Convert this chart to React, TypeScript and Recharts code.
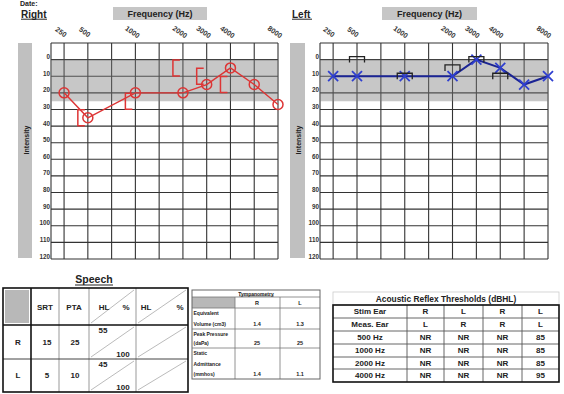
import React from 'react';
import { ComposedChart, Line, XAxis, YAxis, CartesianGrid, ReferenceArea } from 'recharts';

const FONT = '"Liberation Sans", Arial, Helvetica, sans-serif';

// audiogram frequency columns (index position) and their labels
const freqIndex = [0, 1, 2, 3, 4, 5, 6, 7, 8, 9];
const freqLabels = ['250', '500', '', '1000', '', '2000', '3000', '4000', '', '8000'];
const gridTicksX = [-0.55, ...freqIndex];
const dbTicks = [-10, 0, 10, 20, 30, 40, 50, 60, 70, 80, 90, 100, 110, 120];

// air conduction: 250, 500, 1000, 2000, 3000, 4000, 6000, 8000
const acFreqIdx = [0, 1, 3, 5, 6, 7, 8, 9];
const rightAC = [20, 35, 20, 20, 15, 5, 15, 27];
const leftAC = [10, 10, 10, 10, 0, 5, 15, 10];

// bone conduction: 500, 1000, 2000, 3000, 4000
const bcFreqIdx = [1, 3, 5, 6, 7];
const rightBC = [35, 25, 5, 10, 15];
const leftBC = [0, 10, 5, 0, 10];

// speech table
const speechCols = ['SRT', 'PTA'];
const speechRows = ['R', 'L'];
const speechSRT = ['15', '5'];
const speechPTA = ['25', '10'];
const speechHL = ['55', '45'];
const speechPct = ['100', '100'];

// tympanometry
const tympRowLabels = [['Equivalent', 'Volume (cm3)'], ['Peak Pressure', '(daPa)'], ['Static', 'Admittance', '(mmhos)']];
const tympR = ['1.4', '25', '1.4'];
const tympL = ['1.3', '25', '1.1'];

// acoustic reflex
const arRowLabels = ['Stim Ear', 'Meas. Ear', '500 Hz', '1000 Hz', '2000 Hz', '4000 Hz'];
const arValues = [
  ['R', 'L', 'R', 'L'],
  ['L', 'R', 'R', 'L'],
  ['NR', 'NR', 'NR', '85'],
  ['NR', 'NR', 'NR', '85'],
  ['NR', 'NR', 'NR', '85'],
  ['NR', 'NR', 'NR', '95'],
];

const RED = '#dd3535';
const BLUE = '#2f3fd0';
const NAVY = '#1b2494';

const rightACData = acFreqIdx.map((x, i) => ({ x, db: rightAC[i] }));
const leftACData = acFreqIdx.map((x, i) => ({ x, db: leftAC[i] }));
const rightBCData = bcFreqIdx.map((x, i) => ({ x, db: rightBC[i] }));
const leftBCData = bcFreqIdx.map((x, i) => ({ x, db: leftBC[i] }));

const makeXTick = (dx: number) => (props: any) => {
  const { x, payload } = props;
  const idx = freqIndex.indexOf(payload.value);
  const label = idx >= 0 ? freqLabels[idx] : '';
  if (!label) return <g />;
  const tx = x + dx;
  const ty = 32;
  return (
    <text x={tx} y={ty} transform={`rotate(35 ${tx} ${ty})`} textAnchor="middle" dominantBaseline="central"
      fontSize={7.2} fontWeight="bold" fill="#333" fontFamily={FONT}>{label}</text>
  );
};

const YTick = (props: any) => {
  const { x, y, payload } = props;
  if (payload.value < 0) return <g />;
  return (
    <text x={x} y={y - 3} textAnchor="end" dominantBaseline="central" fontSize={6.3} fontWeight="bold" fill="#333" fontFamily={FONT}>
      {payload.value}
    </text>
  );
};

const CircleDot = (props: any) => {
  const { cx, cy, index } = props;
  if (cx == null || cy == null) return <g key={index} />;
  return <circle key={index} cx={cx} cy={cy} r={5} fill="none" stroke={RED} strokeWidth={1.5} />;
};

const XDot = (props: any) => {
  const { cx, cy, index } = props;
  if (cx == null || cy == null) return <g key={index} />;
  const s = 5;
  return (
    <g key={index}>
      <line x1={cx - s} y1={cy - s} x2={cx + s} y2={cy + s} stroke={BLUE} strokeWidth={1.8} />
      <line x1={cx - s} y1={cy + s} x2={cx + s} y2={cy - s} stroke={BLUE} strokeWidth={1.8} />
    </g>
  );
};

const RightBracket = (props: any) => {
  const { cx, cy, index } = props;
  if (cx == null || cy == null) return <g key={index} />;
  const vx = cx - 10;
  return (
    <path key={index} d={`M${cx - 3},${cy - 8} L${vx},${cy - 8} L${vx},${cy + 8} L${cx - 3},${cy + 8}`}
      fill="none" stroke={RED} strokeWidth={1.5} />
  );
};

const LeftBracket = (props: any) => {
  const { cx, cy, index } = props;
  if (cx == null || cy == null) return <g key={index} />;
  return (
    <path key={index} d={`M${cx - 7.5},${cy + 3} L${cx - 7.5},${cy - 3} L${cx + 7.5},${cy - 3} L${cx + 7.5},${cy + 3}`}
      fill="none" stroke="#222" strokeWidth={1.3} />
  );
};

function Audiogram(props: { left: number; width: number; marginLeft: number; marginRight: number; tickDx: number; ear: 'R' | 'L' }) {
  const { left, width, marginLeft, marginRight, tickDx, ear } = props;
  return (
    <div style={{ position: 'absolute', left, top: 0 }}>
      <ComposedChart width={width} height={266} margin={{ top: 13, right: marginRight, bottom: 7, left: marginLeft }}>
        <XAxis dataKey="x" type="number" orientation="top" domain={[-0.55, 9]}
          ticks={gridTicksX} interval={0} height={30} tickLine={false} axisLine={false} tick={makeXTick(tickDx)} />
        <YAxis type="number" reversed domain={[-10, 120]} ticks={dbTicks} interval={0}
          width={30} tickLine={false} axisLine={false} tickSize={0} tickMargin={1} tick={YTick} />
        <CartesianGrid stroke="#333" strokeWidth={1.1} />
        <ReferenceArea y1={0} y2={25} fill="#7a7a7a" fillOpacity={0.42} stroke="none" />
        {ear === 'R' ? (
          <>
            <Line data={rightACData} dataKey="db" type="linear" stroke={RED} strokeWidth={1.4}
              dot={CircleDot} activeDot={false} isAnimationActive={false} />
            <Line data={rightBCData} dataKey="db" type="linear" stroke="none" strokeWidth={0}
              dot={RightBracket} activeDot={false} isAnimationActive={false} />
          </>
        ) : (
          <>
            <Line data={leftACData} dataKey="db" type="linear" stroke={NAVY} strokeWidth={2}
              dot={XDot} activeDot={false} isAnimationActive={false} />
            <Line data={leftBCData} dataKey="db" type="linear" stroke="none" strokeWidth={0}
              dot={LeftBracket} activeDot={false} isAnimationActive={false} />
          </>
        )}
      </ComposedChart>
    </div>
  );
}

function Background() {
  const t = (x: number, y: number, s: string, size = 8, anchor: 'start' | 'middle' | 'end' = 'middle', extra: any = {}) => (
    <text x={x} y={y} fontSize={size} fontWeight="bold" fill="#222" fontFamily={FONT} textAnchor={anchor}
      dominantBaseline="central" {...extra}>{s}</text>
  );
  // speech table geometry
  const sx = [3, 31, 59, 89, 136, 188];
  const sy = [288, 325, 359, 392];
  // tympanometry geometry
  const tx = [192, 235, 280, 320];
  const ty = [290, 297, 308, 329, 348, 379];
  // acoustic reflex geometry
  const ax = [333, 407, 444, 483, 522, 559];
  const ay = [305, 318, 331, 344, 357, 369, 382];
  return (
    <svg width={564} height={394} style={{ position: 'absolute', left: 0, top: 0 }}>
      <rect x={0} y={0} width={564} height={394} fill="#fff" />
      <text x={20} y={6.2} fontSize={7} fontWeight="bold" fill="#222" fontFamily={FONT}>Date:</text>
      <text x={21} y={17.5} fontSize={10} fontWeight="bold" fill="#222" fontFamily={FONT}>Right</text>
      <line x1={21} x2={47} y1={19.2} y2={19.2} stroke="#222" strokeWidth={1} />
      <text x={292} y={17.5} fontSize={10} fontWeight="bold" fill="#222" fontFamily={FONT}>Left</text>
      <line x1={292} x2={312} y1={19.2} y2={19.2} stroke="#222" strokeWidth={1} />
      <rect x={113} y={7} width={94} height={13} fill="#c6c6c6" />
      {t(160, 13.5, 'Frequency (Hz)', 9)}
      <rect x={382} y={7} width={95} height={13} fill="#c6c6c6" />
      {t(429.5, 13.5, 'Frequency (Hz)', 9)}
      <rect x={18} y={43} width={14} height={215} fill="#c0c0c0" />
      {t(26, 140, 'Intensity', 7, 'middle', { transform: 'rotate(-90 26 140)' })}
      <rect x={290} y={43} width={15} height={215} fill="#c0c0c0" />
      {t(298.5, 140, 'Intensity', 7, 'middle', { transform: 'rotate(-90 298.5 140)' })}

      {/* Speech */}
      {t(94, 279, 'Speech', 10.5)}
      <line x1={75} x2={113} y1={285} y2={285} stroke="#222" strokeWidth={1} />
      <rect x={5} y={290} width={24} height={33} fill="#b8b8b8" />
      {[2, 3, 4].map((i) => (
        <line key={i} x1={sx[i]} x2={sx[i]} y1={sy[0]} y2={sy[3]} stroke="#999" strokeWidth={1} />
      ))}
      <line x1={sx[0]} x2={sx[5]} y1={sy[2]} y2={sy[2]} stroke="#444" strokeWidth={1} />
      <line x1={sx[1]} x2={sx[1]} y1={sy[0]} y2={sy[3]} stroke="#111" strokeWidth={1.6} />
      <line x1={sx[0]} x2={sx[5]} y1={sy[1]} y2={sy[1]} stroke="#111" strokeWidth={1.6} />
      {[3, 4].map((c) => [0, 1, 2].map((r) => (
        <line key={`${c}-${r}`} x1={sx[c] + 2} y1={sy[r + 1] - 2} x2={sx[c + 1] - 2} y2={sy[r] + 2} stroke="#bbb" strokeWidth={1} />
      )))}
      <rect x={sx[0]} y={sy[0]} width={sx[5] - sx[0]} height={sy[3] - sy[0]} fill="none" stroke="#111" strokeWidth={1.6} />
      {t(45, 307, speechCols[0])}
      {t(74, 307, speechCols[1])}
      {t(104, 307, 'HL')}
      {t(126, 307, '%')}
      {t(146, 307, 'HL')}
      {t(180, 307, '%')}
      {speechRows.map((r, i) => {
        const y0 = sy[i + 1];
        const y1 = sy[i + 2];
        const cy = (y0 + y1) / 2;
        return (
          <g key={r}>
            {t(18, cy, r)}
            {t(47, cy, speechSRT[i])}
            {t(75, cy, speechPTA[i])}
            {t(103, y0 + 5, speechHL[i])}
            {t(123, y1 - 5, speechPct[i])}
          </g>
        );
      })}

      {/* Tympanometry */}
      <rect x={tx[0]} y={ty[1]} width={tx[1] - tx[0]} height={ty[2] - ty[1]} fill="#b8b8b8" />
      {[1, 2].map((i) => (
        <line key={i} x1={tx[i]} x2={tx[i]} y1={ty[1]} y2={ty[5]} stroke="#777" strokeWidth={0.8} />
      ))}
      {[1, 2, 3, 4].map((i) => (
        <line key={i} x1={tx[0]} x2={tx[3]} y1={ty[i]} y2={ty[i]} stroke="#777" strokeWidth={0.8} />
      ))}
      <rect x={tx[0]} y={ty[0]} width={tx[3] - tx[0]} height={ty[5] - ty[0]} fill="none" stroke="#666" strokeWidth={1} />
      {t(256, 293.5, 'Tympanometry', 5)}
      <line x1={239} x2={274} y1={296} y2={296} stroke="#222" strokeWidth={0.5} />
      {t(257, 302.5, 'R', 5.5)}
      {t(300, 302.5, 'L', 5.5)}
      {tympRowLabels.map((lines, i) => {
        const y0 = ty[i + 2];
        const y1 = ty[i + 3];
        const n = lines.length;
        const step = (y1 - y0) / n;
        return (
          <g key={i}>
            {lines.map((s, j) => t(193.5, y0 + step * (j + 0.5), s, 5, 'start'))}
            {t(257, y1 - step * 0.5, tympR[i], 5.5)}
            {t(300, y1 - step * 0.5, tympL[i], 5.5)}
          </g>
        );
      })}

      {/* Acoustic reflex */}
      <rect x={ax[0]} y={292} width={ax[5] - ax[0]} height={13} fill="none" stroke="#ccc" strokeWidth={0.8} />
      {t(446, 298.5, 'Acoustic Reflex Thresholds (dBHL)', 8.4)}
      {[1, 2, 3, 4, 5].map((i) => (
        <line key={i} x1={ax[0]} x2={ax[5]} y1={ay[i]} y2={ay[i]} stroke="#555" strokeWidth={0.9} />
      ))}
      {[1, 2, 3, 4].map((i) => (
        <line key={i} x1={ax[i]} x2={ax[i]} y1={ay[0]} y2={ay[6]} stroke="#555" strokeWidth={0.9} />
      ))}
      <rect x={ax[0]} y={ay[0]} width={ax[5] - ax[0]} height={ay[6] - ay[0]} fill="none" stroke="#111" strokeWidth={1.6} />
      {arRowLabels.map((lab, r) => {
        const cy = (ay[r] + ay[r + 1]) / 2;
        return (
          <g key={lab}>
            {t((ax[0] + ax[1]) / 2, cy, lab, 8)}
            {arValues[r].map((v, c) => (
              <g key={c}>{t((ax[c + 1] + ax[c + 2]) / 2, cy, v, 8)}</g>
            ))}
          </g>
        );
      })}
    </svg>
  );
}

export default function App() {
  return (
    <div style={{ position: 'absolute', left: 0, top: 0, width: 564, height: 394, overflow: 'hidden', background: '#fff', fontFamily: FONT }}>
      <Background />
      <Audiogram left={0} width={290} marginLeft={21} marginRight={12} tickDx={-3} ear="R" />
      <Audiogram left={280} width={280} marginLeft={10} marginRight={12} tickDx={-4} ear="L" />
    </div>
  );
}
